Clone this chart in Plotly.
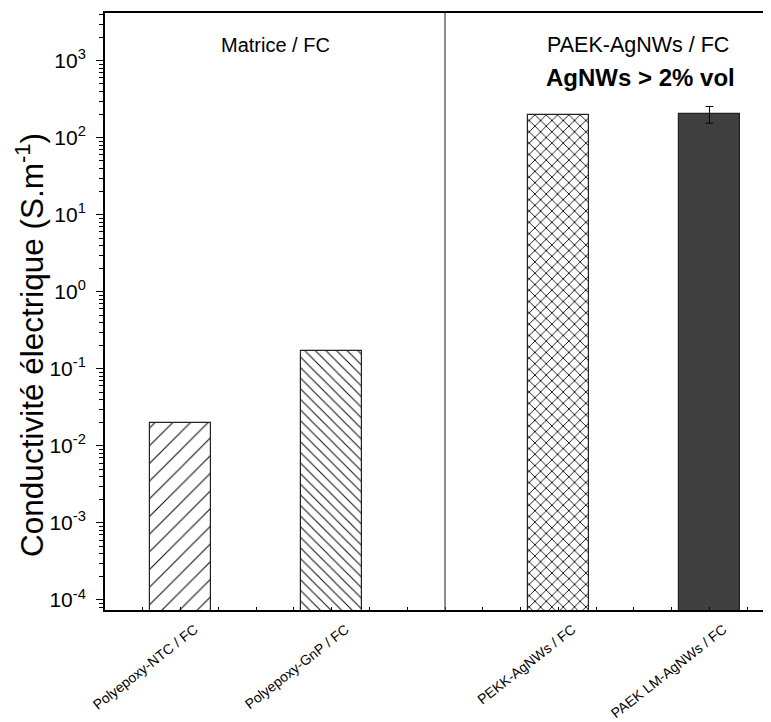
import plotly.graph_objects as go

categories = ["Polyepoxy-NTC / FC", "Polyepoxy-GnP / FC", "PEKK-AgNWs / FC", "PAEK LM-AgNWs / FC"]
positions = [0, 1, 2.5, 3.5]
values = [0.02, 0.17, 200, 205]
errors = [0, 0, 0, 50]
show_err = [False, False, False, True]
patterns = ["/", "\\", "x", ""]
pattern_sizes = [12.5, 7.5, 8, 8]
pattern_solidity = [0.09, 0.14, 0.22, 0.2]
fill_colors = ["white", "white", "white", "#404040"]
ytick_vals = [1e-4, 1e-3, 1e-2, 1e-1, 1e0, 1e1, 1e2, 1e3]
ytick_text = ["10<sup>-4</sup>", "10<sup>-3</sup>", "10<sup>-2</sup>", "10<sup>-1</sup>",
              "10<sup>0</sup>", "10<sup>1</sup>", "10<sup>2</sup>", "10<sup>3</sup>"]

fig = go.Figure()
for i in range(len(categories)):
    fig.add_trace(go.Bar(
        x=[positions[i]], y=[values[i]], width=0.4,
        marker=dict(color=fill_colors[i],
                    line=dict(color="#222222", width=1.2),
                    pattern=dict(shape=patterns[i], size=pattern_sizes[i],
                                 fgcolor="#111111", bgcolor=fill_colors[i], fgopacity=1,
                                 solidity=pattern_solidity[i], fillmode="replace")),
        error_y=dict(type="data", array=[errors[i]], visible=show_err[i],
                     color="black", thickness=1, width=4),
        showlegend=False,
    ))

fig.add_shape(type="line", xref="x", yref="paper", x0=1.75, x1=1.75, y0=0, y1=1,
              line=dict(color="#444444", width=1.2))

annots = [
    dict(x=0.63, y=0.947, text="Matrice / FC", size=20),
    dict(x=3.03, y=0.947, text="PAEK-AgNWs / FC", size=21.5),
    dict(x=3.045, y=0.892, text="<b>AgNWs &gt; 2% vol</b>", size=24),
]
for a in annots:
    fig.add_annotation(x=a["x"], xref="x", y=a["y"], yref="paper", text=a["text"],
                       showarrow=False, font=dict(size=a["size"], color="black"),
                       xanchor="center", yanchor="middle")

# y-axis title placed as rotated text
fig.add_annotation(x=0, xref="paper", y=0.444, yref="paper", xshift=-75,
                   text="Conductivité électrique (S.m<sup>-1</sup>)", textangle=-90,
                   showarrow=False, font=dict(size=31.5, color="black"),
                   xanchor="center", yanchor="middle")

fig.update_layout(
    width=771, height=722,
    margin=dict(l=97, r=0, t=5, b=120),
    paper_bgcolor="white", plot_bgcolor="white",
    font=dict(family="Liberation Sans, Arial, sans-serif", color="black"),
    bargap=0,
)
fig.update_xaxes(
    range=[-0.5, 3.96], tickvals=positions, ticktext=categories,
    tickangle=-38, tickfont=dict(size=14), ticklabelshift=14, ticklabelstandoff=4,
    ticks="inside", ticklen=3, tickcolor="black",
    minor=dict(dtick=0.25, tick0=0, ticks="inside", ticklen=3, tickcolor="black"),
    showline=True, linecolor="black", linewidth=2, mirror=True,
    showgrid=False, zeroline=False, automargin=False,
)
fig.update_yaxes(
    type="log", range=[-4.13, 3.62], tickvals=ytick_vals, ticktext=ytick_text,
    tickfont=dict(size=21), ticks="outside", ticklen=7, tickcolor="black",
    ticklabelstandoff=6,
    minor=dict(dtick="D1", ticks="outside", ticklen=4, tickcolor="black", showgrid=False),
    showline=True, linecolor="black", linewidth=2,
    showgrid=False, zeroline=False, automargin=False,
)

fig.write_html("out.html")
